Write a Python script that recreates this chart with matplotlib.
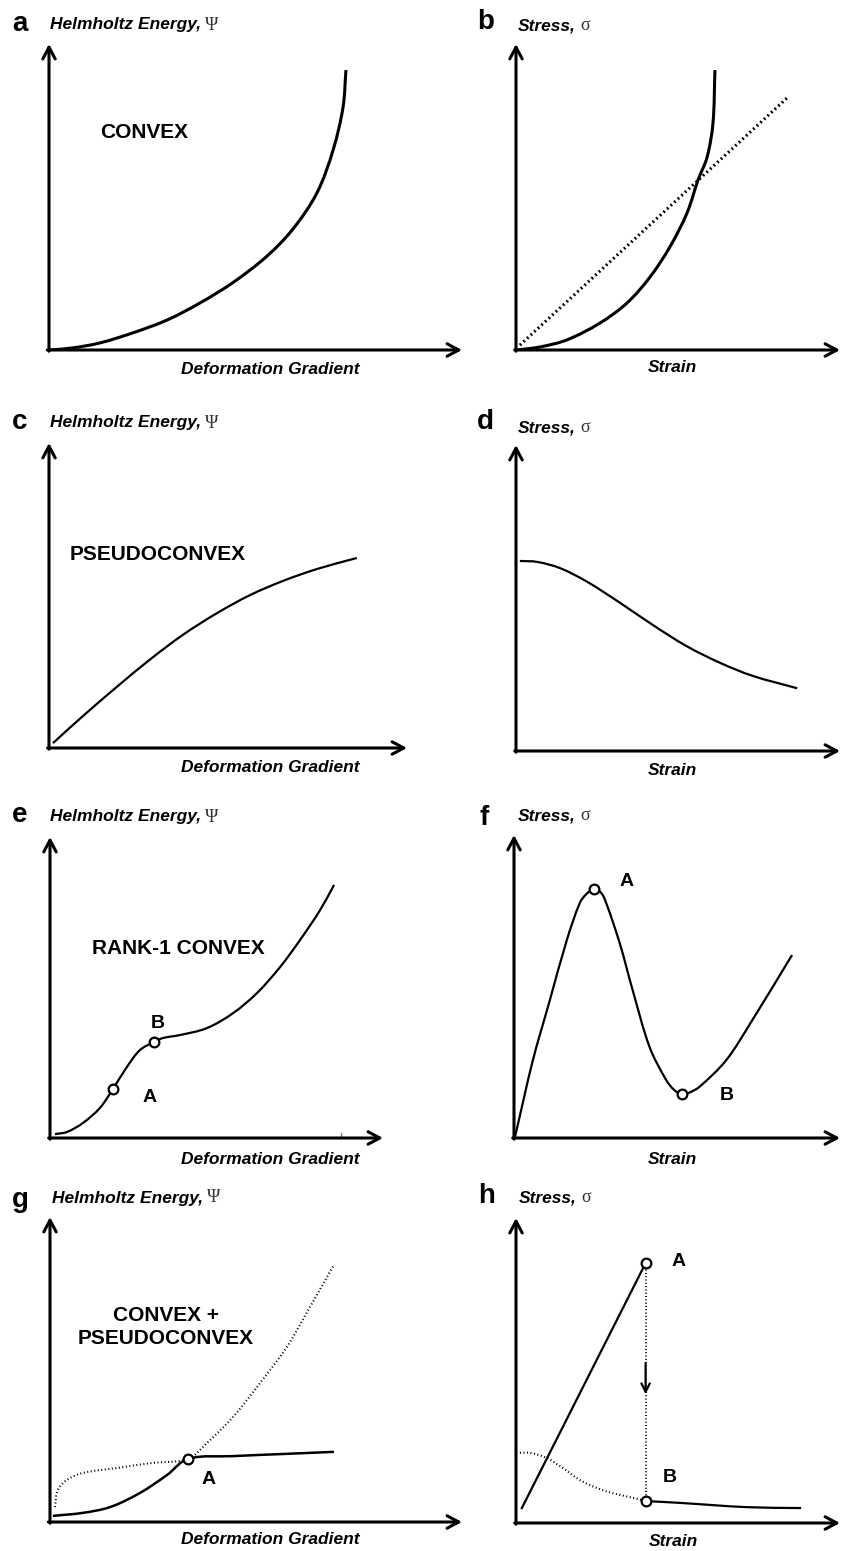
import math
import matplotlib
matplotlib.use("Agg")
import matplotlib.pyplot as plt
from matplotlib.path import Path
from matplotlib.patches import PathPatch

# ---------------- data (normalised to each panel's axis lengths) ----------------
a_x = [0.002, 0.058, 0.123, 0.203, 0.286, 0.366, 0.446, 0.528, 0.591, 0.649, 0.688, 0.712, 0.719]
a_y = [0.000, 0.007, 0.023, 0.056, 0.098, 0.154, 0.221, 0.307, 0.396, 0.514, 0.654, 0.794, 0.915]

b_x = [0.003, 0.074, 0.157, 0.259, 0.343, 0.414, 0.475, 0.528, 0.562, 0.590, 0.608, 0.614]
b_y = [0.000, 0.010, 0.033, 0.088, 0.154, 0.239, 0.337, 0.448, 0.556, 0.631, 0.742, 0.915]
b_lin_x = [0.012, 0.840]
b_lin_y = [0.016, 0.827]

c_x = [0.011, 0.095, 0.190, 0.282, 0.374, 0.469, 0.561, 0.654, 0.749, 0.860]
c_y = [0.016, 0.105, 0.201, 0.290, 0.371, 0.442, 0.501, 0.548, 0.587, 0.623]

d_x = [0.012, 0.065, 0.135, 0.218, 0.320, 0.422, 0.526, 0.628, 0.729, 0.868]
d_y = [0.621, 0.618, 0.598, 0.554, 0.485, 0.412, 0.343, 0.289, 0.246, 0.205]

e_x = [0.015, 0.051, 0.099, 0.150, 0.189, 0.231, 0.270, 0.312, 0.339, 0.390, 0.471, 0.550, 0.622, 0.691, 0.751, 0.811, 0.853]
e_y = [0.013, 0.020, 0.050, 0.100, 0.163, 0.236, 0.292, 0.319, 0.332, 0.342, 0.365, 0.415, 0.482, 0.568, 0.658, 0.757, 0.841]
e_pts_x = [0.189, 0.312]
e_pts_y = [0.163, 0.319]
e_pts_lab = ["A", "B"]

f_x = [0.003, 0.058, 0.110, 0.162, 0.202, 0.222, 0.246, 0.268, 0.283, 0.324, 0.364, 0.416,
       0.467, 0.492, 0.516, 0.538, 0.569, 0.651, 0.731, 0.853]
f_y = [0.003, 0.257, 0.455, 0.653, 0.776, 0.805, 0.821, 0.808, 0.775, 0.644, 0.488, 0.300,
       0.191, 0.158, 0.145, 0.150, 0.169, 0.257, 0.389, 0.604]
f_pts_x = [0.246, 0.516]
f_pts_y = [0.821, 0.145]
f_pts_lab = ["A", "B"]

g_solid_x = [0.007, 0.080, 0.146, 0.218, 0.284, 0.335, 0.444, 0.566, 0.689]
g_solid_y = [0.020, 0.030, 0.049, 0.095, 0.154, 0.207, 0.216, 0.223, 0.230]
g_dot_x = [0.012, 0.019, 0.041, 0.080, 0.163, 0.243, 0.335, 0.381, 0.444, 0.510, 0.575, 0.631, 0.689]
g_dot_y = [0.049, 0.105, 0.138, 0.161, 0.177, 0.193, 0.207, 0.259, 0.344, 0.456, 0.574, 0.705, 0.843]
g_pt_x, g_pt_y = 0.335, 0.207

h_load_x = [0.018, 0.400]
h_load_y = [0.049, 0.852]
h_tail_x = [0.400, 0.505, 0.711, 0.880]
h_tail_y = [0.072, 0.066, 0.052, 0.049]
h_dot_x = [0.012, 0.043, 0.095, 0.145, 0.197, 0.249, 0.298, 0.351, 0.400]
h_dot_y = [0.230, 0.230, 0.213, 0.180, 0.141, 0.115, 0.098, 0.085, 0.072]
h_pts_x = [0.400, 0.400]
h_pts_y = [0.852, 0.072]

# ---------------- figure ----------------
W, H = 841, 1551
fig = plt.figure(figsize=(W / 100, H / 100), dpi=100)

SANS = "Liberation Sans"
SERIF = "Liberation Serif"


def fx(x):
    return x / W


def fy(y):
    return 1 - y / H


def make_panel(ox, oy, xtip, ytip):
    ax = fig.add_axes([fx(ox), fy(oy), (xtip - ox) / W, (oy - ytip) / H])
    ax.set_xlim(0, 1)
    ax.set_ylim(0, 1)
    ax.axis("off")
    ax._px = (xtip - ox, oy - ytip)
    ap = dict(arrowstyle="->,head_length=0.6,head_width=0.32", lw=2.2, color="black",
              shrinkA=0, shrinkB=0, mutation_scale=14)
    ax.annotate("", xy=(1, 0), xytext=(-0.004, 0), xycoords="axes fraction",
                textcoords="axes fraction", arrowprops=ap, annotation_clip=False)
    ax.annotate("", xy=(0, 1), xytext=(0, -0.004), xycoords="axes fraction",
                textcoords="axes fraction", arrowprops=ap, annotation_clip=False)
    return ax


def smooth(ax, xs, ys, **kw):
    """Draw the read points as one smooth Bezier path passing through every point."""
    sx, sy = ax._px
    P = [(x * sx, y * sy) for x, y in zip(xs, ys)]
    n = len(P)
    tang = []
    for i in range(n):
        a = P[max(i - 1, 0)]
        b = P[min(i + 1, n - 1)]
        dx, dy = b[0] - a[0], b[1] - a[1]
        L = math.hypot(dx, dy) or 1.0
        tang.append((dx / L, dy / L))
    verts = [(P[0][0] / sx, P[0][1] / sy)]
    codes = [Path.MOVETO]
    for i in range(n - 1):
        L = math.hypot(P[i + 1][0] - P[i][0], P[i + 1][1] - P[i][1]) / 3.0
        c1 = (P[i][0] + tang[i][0] * L, P[i][1] + tang[i][1] * L)
        c2 = (P[i + 1][0] - tang[i + 1][0] * L, P[i + 1][1] - tang[i + 1][1] * L)
        for q in (c1, c2, P[i + 1]):
            verts.append((q[0] / sx, q[1] / sy))
        codes += [Path.CURVE4] * 3
    patch = PathPatch(Path(verts, codes), facecolor="none", edgecolor="black",
                      capstyle="butt", joinstyle="round", **kw)
    ax.add_patch(patch)


def title(x, y, letter, lx, ly, text, sym, ax):
    fig.text(fx(lx), fy(ly), letter, fontsize=20, fontweight="bold", family=SANS,
             ha="left", va="center")
    t = fig.text(fx(x), fy(y), text, fontsize=12.5, fontweight="bold", style="italic",
                 family=SANS, ha="left", va="center")
    ax.annotate(sym, xy=(1, 0.5), xycoords=t, xytext=(3, 0), textcoords="offset points",
                fontsize=13, family=SERIF, color="0.2", ha="left", va="center",
                annotation_clip=False)


def xlabel(x, y, text):
    fig.text(fx(x), fy(y), text, fontsize=12.5, fontweight="bold", style="italic",
             family=SANS, ha="center", va="center")


def note(x, y, text, ha="left", size=15):
    fig.text(fx(x), fy(y), text, fontsize=size, fontweight="bold", family=SANS,
             ha=ha, va="center", linespacing=1.25)


circ = dict(marker="o", ms=7, mfc="white", mec="black", mew=1.6, ls="none", zorder=5)
DOT = (0, (0.5, 1.2))

# ---- a ----
ax = make_panel(49, 350, 462, 44)
smooth(ax, a_x, a_y, lw=2.2)
title(50, 25, "a", 12, 24, "Helmholtz Energy,", "Ψ", ax)
xlabel(270, 369, "Deformation Gradient")
note(100, 133, "CONVEX")

# ---- b ----
ax = make_panel(516, 350, 840, 44)
smooth(ax, b_x, b_y, lw=2.2)
ax.plot(b_lin_x, b_lin_y, color="black", lw=2.2, ls=(0, (0.6, 1.0)))
title(518, 26, "b", 477, 22, "Stress,", "σ", ax)
xlabel(672, 368, "Strain")

# ---- c ----
ax = make_panel(49, 748, 407, 443)
smooth(ax, c_x, c_y, lw=1.6)
title(50, 423, "c", 12, 422, "Helmholtz Energy,", "Ψ", ax)
xlabel(270, 767, "Deformation Gradient")
note(70, 555, "PSEUDOCONVEX")

# ---- d ----
ax = make_panel(516, 751, 840, 445)
smooth(ax, d_x, d_y, lw=1.6)
title(518, 428, "d", 477, 422, "Stress,", "σ", ax)
xlabel(672, 770, "Strain")

# ---- e ----
ax = make_panel(50, 1138, 383, 837)
smooth(ax, e_x, e_y, lw=1.6)
ax.plot([0.874, 0.874], [0.0, 0.016], color="0.4", lw=0.8)
ax.plot(e_pts_x, e_pts_y, **circ)
title(50, 817, "e", 12, 815, "Helmholtz Energy,", "Ψ", ax)
xlabel(270, 1160, "Deformation Gradient")
note(92, 948, "RANK-1 CONVEX")
note(143, 1097, e_pts_lab[0], size=14)
note(151, 1023, e_pts_lab[1], size=14)

# ---- f ----
ax = make_panel(514, 1138, 840, 835)
smooth(ax, f_x, f_y, lw=1.6)
ax.plot(f_pts_x, f_pts_y, **circ)
title(518, 816, "f", 480, 818, "Stress,", "σ", ax)
xlabel(672, 1160, "Strain")
note(620, 882, f_pts_lab[0], size=14)
note(720, 1095, f_pts_lab[1], size=14)

# ---- g ----
ax = make_panel(50, 1522, 462, 1217)
smooth(ax, g_dot_x, g_dot_y, lw=1.5, linestyle=DOT)
smooth(ax, g_solid_x, g_solid_y, lw=1.8)
ax.plot([g_pt_x], [g_pt_y], **circ)
title(52, 1198, "g", 12, 1200, "Helmholtz Energy,", "Ψ", ax)
xlabel(270, 1540, "Deformation Gradient")
note(166, 1327, "CONVEX +\nPSEUDOCONVEX", ha="center")
note(202, 1480, "A", size=14)

# ---- h ----
ax = make_panel(516, 1523, 840, 1218)
smooth(ax, h_dot_x, h_dot_y, lw=1.5, linestyle=DOT)
ax.plot(h_load_x, h_load_y, color="black", lw=1.6)
smooth(ax, h_tail_x, h_tail_y, lw=1.6)
ax.plot([h_pts_x[0], h_pts_x[1]], [h_pts_y[0], h_pts_y[1]], color="black", lw=1.4,
        ls=DOT)
ax.annotate("", xy=(h_pts_x[0], 0.413), xytext=(h_pts_x[0], 0.534),
            arrowprops=dict(arrowstyle="->,head_length=0.5,head_width=0.25", lw=1.6,
                            color="black", mutation_scale=12))
ax.plot(h_pts_x, h_pts_y, **circ)
title(519, 1198, "h", 478, 1196, "Stress,", "σ", ax)
xlabel(673, 1542, "Strain")
note(672, 1262, "A", size=14)
note(663, 1478, "B", size=14)

fig.savefig("out.png", dpi=100, facecolor="white")
